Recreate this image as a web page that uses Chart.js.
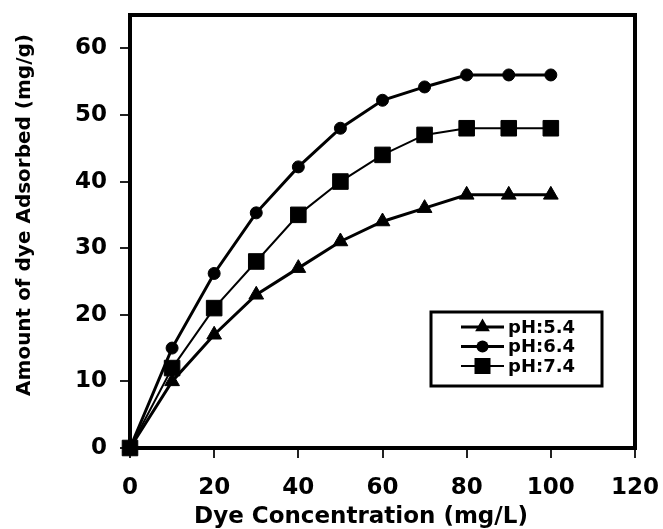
<!DOCTYPE html>
<html>
<head>
<meta charset="utf-8">
<style>
  body { margin: 0; background: #fff; }
  canvas { display: block; }
</style>
</head>
<body>
  <canvas id="chart" width="663" height="529"></canvas>

  <script src="https://cdn.jsdelivr.net/npm/chart.js"></script>
  <script>
    // data
    const concentration = [0, 10, 20, 30, 40, 50, 60, 70, 80, 90, 100];
    const ph54 = [0, 10, 17, 23, 27, 31, 34, 36, 38, 38, 38];
    const ph64 = [0, 15, 26.2, 35.3, 42.2, 48, 52.2, 54.2, 56, 56, 56];
    const ph74 = [0, 12, 21, 28, 35, 40, 44, 47, 48, 48, 48];
    const seriesLabels = ['pH:5.4', 'pH:6.4', 'pH:7.4'];
    const xTitle = 'Dye Concentration (mg/L)';
    const yTitle = 'Amount of dye Adsorbed (mg/g)';

    const toPoints = (ys) => ys.map((y, i) => ({ x: concentration[i], y: y }));

    const fontFamily = "'DejaVu Sans', 'Liberation Sans', Arial, sans-serif";
    Chart.defaults.font.family = fontFamily;
    Chart.defaults.font.weight = 'bold';
    Chart.defaults.color = '#000';

    // frame around the plot (top and right sides too)
    const framePlugin = {
      id: 'frame',
      beforeDatasetsDraw(chart) {
        const { ctx, chartArea: a } = chart;
        ctx.save();
        ctx.strokeStyle = '#000';
        ctx.lineWidth = 4;
        ctx.strokeRect(a.left, a.top, a.right - a.left, a.bottom - a.top);
        ctx.restore();
      }
    };

    // axis titles, placed like in the original figure (a bit off-centre)
    const titlesPlugin = {
      id: 'axisTitles',
      afterDraw(chart) {
        const { ctx, chartArea: a } = chart;
        ctx.save();
        ctx.fillStyle = '#000';
        ctx.textAlign = 'center';
        ctx.textBaseline = 'middle';
        ctx.font = 'bold 23px ' + fontFamily;
        ctx.fillText(xTitle, a.left + 231, a.bottom + 69);
        ctx.translate(25, a.top + 200);
        ctx.rotate(-Math.PI / 2);
        ctx.font = 'bold 20px ' + fontFamily;
        ctx.fillText(yTitle, 0, 0);
        ctx.restore();
      }
    };

    const drawMarker = (ctx, style, x, y, r) => {
      ctx.beginPath();
      if (style === 'circle') {
        ctx.arc(x, y, r, 0, Math.PI * 2);
      } else if (style === 'rect') {
        ctx.rect(x - r, y - r, 2 * r, 2 * r);
      } else {
        ctx.moveTo(x, y - r);
        ctx.lineTo(x + r * 0.866, y + r * 0.5);
        ctx.lineTo(x - r * 0.866, y + r * 0.5);
        ctx.closePath();
      }
      ctx.fill();
    };

    // boxed legend inside the plot area, lower right
    const legendPlugin = {
      id: 'boxLegend',
      afterDatasetsDraw(chart) {
        const { ctx, chartArea: a } = chart;
        const boxW = 171, boxH = 74;
        const bx = a.right - 33 - boxW;
        const by = a.top + 297;
        ctx.save();
        ctx.fillStyle = '#fff';
        ctx.fillRect(bx, by, boxW, boxH);
        ctx.strokeStyle = '#000';
        ctx.lineWidth = 3;
        ctx.strokeRect(bx, by, boxW, boxH);
        const sizes = [8.5, 6, 8];
        chart.data.datasets.forEach((ds, i) => {
          const y = by + 15 + i * 19.5;
          ctx.strokeStyle = '#000';
          ctx.fillStyle = '#000';
          ctx.lineWidth = ds.borderWidth;
          ctx.beginPath();
          ctx.moveTo(bx + 30, y);
          ctx.lineTo(bx + 73, y);
          ctx.stroke();
          drawMarker(ctx, ds.pointStyle, bx + 51.5, y, sizes[i]);
          ctx.font = 'bold 18px ' + fontFamily;
          ctx.textBaseline = 'middle';
          ctx.textAlign = 'left';
          ctx.fillText(ds.label, bx + 77, y + 1);
        });
        ctx.restore();
      }
    };

    const commonSet = {
      borderColor: '#000',
      backgroundColor: '#000',
      pointBackgroundColor: '#000',
      pointBorderColor: '#000',
      pointBorderWidth: 1,
      tension: 0,
      fill: false,
      clip: false
    };

    new Chart(document.getElementById('chart'), {
      type: 'line',
      data: {
        datasets: [
          Object.assign({}, commonSet, {
            label: seriesLabels[0], data: toPoints(ph54),
            borderWidth: 3, pointStyle: 'triangle', pointRadius: 8.5
          }),
          Object.assign({}, commonSet, {
            label: seriesLabels[1], data: toPoints(ph64),
            borderWidth: 3, pointStyle: 'circle', pointRadius: 6
          }),
          Object.assign({}, commonSet, {
            label: seriesLabels[2], data: toPoints(ph74),
            borderWidth: 2, pointStyle: 'rect', pointRadius: 11
          })
        ]
      },
      options: {
        responsive: false,
        animation: false,
        layout: { padding: { top: 15, right: 28, bottom: 0, left: 12 } },
        plugins: {
          legend: { display: false },
          tooltip: { enabled: false }
        },
        scales: {
          x: {
            type: 'linear',
            min: 0,
            max: 120,
            ticks: { stepSize: 20, padding: 16, font: { size: 23 }, color: '#000' },
            grid: { drawOnChartArea: false, drawTicks: true, tickLength: 10, color: '#222', lineWidth: 2 },
            border: { display: false },
            afterFit(scale) {
              scale.height = 81;
              scale.paddingLeft = 0;
              scale.paddingRight = 0;
            }
          },
          y: {
            min: 0,
            max: 65,
            ticks: { stepSize: 10, includeBounds: false, padding: 13, font: { size: 23 }, color: '#000' },
            grid: { drawOnChartArea: false, drawTicks: true, tickLength: 10, color: '#222', lineWidth: 2 },
            border: { display: false },
            afterFit(scale) {
              scale.width = 118;
              scale.paddingTop = 0;
              scale.paddingBottom = 0;
            }
          }
        }
      },
      plugins: [framePlugin, legendPlugin, titlesPlugin]
    });
  </script>
</body>
</html>
